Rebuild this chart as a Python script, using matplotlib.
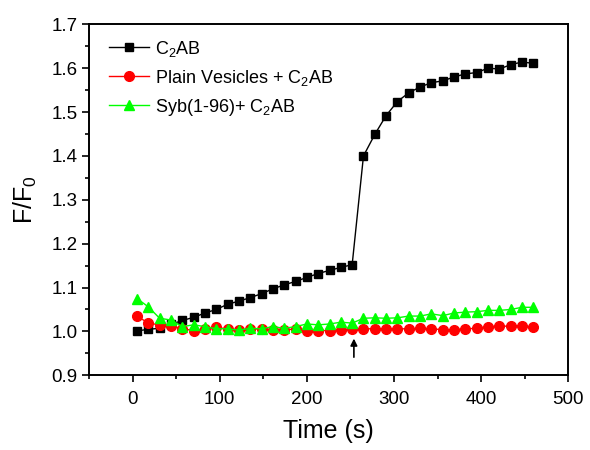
import matplotlib
matplotlib.use("Agg")
import matplotlib.pyplot as plt
from matplotlib.ticker import MultipleLocator, FormatStrFormatter

plt.rcParams["font.family"] = ["Liberation Sans", "DejaVu Sans"]
plt.rcParams["mathtext.fontset"] = "custom"
plt.rcParams["mathtext.rm"] = "Liberation Sans"
plt.rcParams["mathtext.it"] = "Liberation Sans"
plt.rcParams["mathtext.default"] = "regular"

# sampling times (s)
time_s = [5, 18, 31, 44, 57, 70, 83, 96, 109, 122, 135, 148, 161, 174, 187, 200,
          213, 226, 239, 252, 265, 278, 291, 304, 317, 330, 343, 356, 369, 382,
          395, 408, 421, 434, 447, 460]

c2ab = [1.001, 1.005, 1.007, 1.016, 1.025, 1.032, 1.042, 1.050, 1.062, 1.069,
        1.077, 1.086, 1.097, 1.106, 1.114, 1.123, 1.132, 1.139, 1.146, 1.152,
        1.400, 1.449, 1.492, 1.524, 1.544, 1.557, 1.567, 1.571, 1.580, 1.587,
        1.590, 1.600, 1.598, 1.608, 1.614, 1.611]

plain_vesicles = [1.035, 1.019, 1.015, 1.013, 1.006, 1.002, 1.006, 1.010, 1.005,
                  1.003, 1.005, 1.006, 1.003, 1.003, 1.006, 1.002, 1.002, 1.002,
                  1.003, 1.006, 1.006, 1.006, 1.006, 1.006, 1.006, 1.007, 1.006,
                  1.004, 1.004, 1.006, 1.007, 1.011, 1.012, 1.012, 1.013, 1.010]

syb = [1.075, 1.056, 1.030, 1.026, 1.011, 1.015, 1.011, 1.006, 1.006, 1.003,
       1.007, 1.006, 1.011, 1.007, 1.011, 1.017, 1.015, 1.017, 1.021, 1.019,
       1.030, 1.031, 1.030, 1.031, 1.035, 1.035, 1.040, 1.036, 1.042, 1.044,
       1.045, 1.048, 1.048, 1.050, 1.055, 1.055]

labels = ["C$_2$AB", "Plain Vesicles + C$_2$AB", "Syb(1-96)+ C$_2$AB"]
arrow_time = 254

fig = plt.figure(figsize=(5.9, 4.5), dpi=100)
ax = fig.add_axes([0.151, 0.166, 0.812, 0.780])

ax.plot(time_s, c2ab, "-s", color="black", lw=1, ms=6, label=labels[0])
ax.plot(time_s, plain_vesicles, "-o", color="red", mec="red", lw=1, ms=7, label=labels[1])
ax.plot(time_s, syb, "-^", color="#00ff00", mec="#00ff00", lw=1, ms=7.5, label=labels[2])

ax.annotate("", xy=(arrow_time, 0.99), xytext=(arrow_time, 0.935),
            arrowprops=dict(arrowstyle="-|>", color="black", lw=1.2, mutation_scale=10))

ax.set_xlim(-50, 500)
ax.set_ylim(0.9, 1.7)
ax.xaxis.set_major_locator(MultipleLocator(100))
ax.xaxis.set_minor_locator(MultipleLocator(50))
ax.yaxis.set_major_locator(MultipleLocator(0.1))
ax.yaxis.set_minor_locator(MultipleLocator(0.05))
ax.yaxis.set_major_formatter(FormatStrFormatter("%.1f"))

ax.tick_params(which="both", direction="out", top=False, right=False, width=1.2,
               labelsize=13.5)
ax.tick_params(which="major", length=5)
ax.tick_params(axis="x", which="major", pad=6)
ax.tick_params(which="minor", length=3)
for sp in ax.spines.values():
    sp.set_linewidth(1.4)

ax.set_xlabel("Time (s)", fontsize=18, labelpad=8)
ax.set_ylabel("F/F$_0$", fontsize=18, labelpad=9)

ax.legend(loc="upper left", bbox_to_anchor=(0.012, 1.0), frameon=False,
          fontsize=13, handlelength=2.2, handletextpad=0.35, labelspacing=0.5,
          borderaxespad=0.3, borderpad=0.5)

fig.savefig("out.png", dpi=100)
